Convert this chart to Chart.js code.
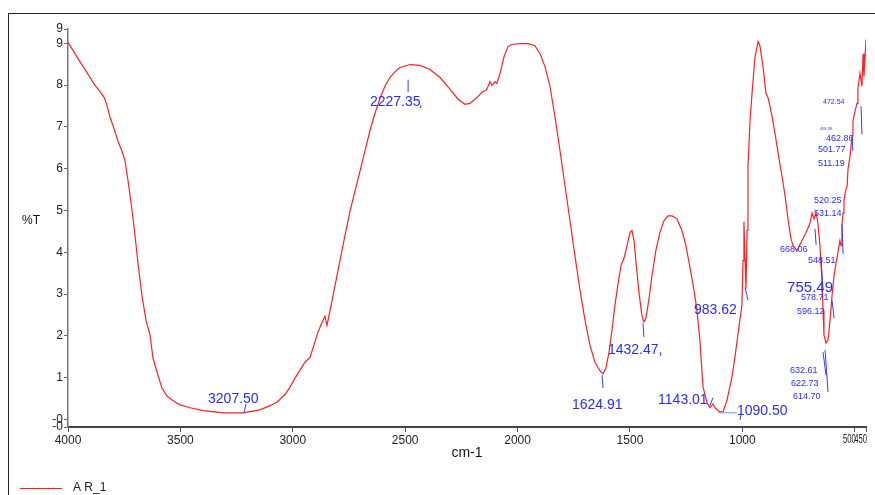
<!DOCTYPE html>
<html>
<head>
<meta charset="utf-8">
<script src="https://cdn.jsdelivr.net/npm/chart.js@4.4.0/dist/chart.umd.min.js"></script>
<style>
  html, body { margin: 0; padding: 0; background: #fff; }
</style>
</head>
<body>
<canvas id="spectrum" width="875" height="495"></canvas>
<script>
// IR spectrum
const wavenumbers = [
  4000, 3969, 3947, 3924, 3902, 3880, 3858, 3840, 3827, 3813, 3795, 3778, 3760, 3746, 3733, 3715,
  3702, 3689, 3671, 3653, 3635, 3622, 3604, 3582, 3560, 3533, 3502, 3457, 3399, 3310, 3221, 3146,
  3101, 3070, 3035, 3012, 2990, 2968, 2946, 2923, 2910, 2888, 2870, 2857, 2848, 2834, 2812, 2790,
  2768, 2745, 2723, 2701, 2679, 2657, 2634, 2612, 2590, 2568, 2545, 2523, 2479, 2434, 2390, 2345,
  2301, 2265, 2234, 2212, 2181, 2154, 2140, 2132, 2123, 2114, 2100, 2092, 2078, 2060, 2043, 2025,
  1989, 1954, 1923, 1900, 1878, 1856, 1834, 1811, 1789, 1767, 1745, 1722, 1700, 1678, 1656, 1633,
  1620, 1607, 1593, 1580, 1567, 1553, 1540, 1527, 1513, 1500, 1491, 1482, 1473, 1460, 1447, 1438,
  1429, 1415, 1402, 1385, 1367, 1349, 1331, 1313, 1291, 1269, 1251, 1233, 1215, 1202, 1189, 1175,
  1157, 1144, 1131, 1122, 1100, 1086, 1068, 1046, 1033, 1019, 1002, 997, 993, 988, 984, 979,
  975, 966, 957, 944, 930, 922, 908, 895, 886, 877, 868, 855, 841, 824, 810, 797,
  784, 775, 757, 744, 730, 717, 708, 699, 690, 681, 672, 664, 655, 646, 641, 637,
  628, 619, 610, 601, 592, 583, 575, 566, 561, 557, 552, 548, 539, 534, 530, 521,
  512, 508, 499, 490, 486, 477, 468, 463, 459, 450
];
const transmittance = [
  9.02, 8.75, 8.56, 8.37, 8.18, 7.99, 7.85, 7.71, 7.52, 7.23, 6.95, 6.66, 6.42, 6.18, 5.71, 5.00,
  4.40, 3.75, 2.97, 2.37, 2.02, 1.47, 1.13, 0.75, 0.56, 0.45, 0.35, 0.28, 0.21, 0.16, 0.16, 0.23,
  0.33, 0.42, 0.59, 0.78, 0.99, 1.18, 1.37, 1.49, 1.71, 2.09, 2.32, 2.47, 2.25, 2.61, 3.21, 3.80,
  4.40, 4.99, 5.47, 5.94, 6.42, 6.90, 7.33, 7.68, 7.97, 8.18, 8.32, 8.42, 8.49, 8.47, 8.37, 8.18,
  7.90, 7.66, 7.54, 7.56, 7.70, 7.85, 7.87, 7.96, 8.08, 7.99, 8.08, 8.04, 8.28, 8.68, 8.92, 8.97,
  8.99, 8.99, 8.94, 8.75, 8.44, 7.97, 7.25, 6.42, 5.59, 4.76, 3.92, 3.09, 2.37, 1.78, 1.37, 1.16,
  1.09, 1.23, 1.61, 2.14, 2.73, 3.25, 3.68, 3.85, 4.16, 4.47, 4.52, 4.28, 3.75, 3.04, 2.49, 2.33,
  2.42, 2.90, 3.44, 4.04, 4.47, 4.75, 4.87, 4.87, 4.80, 4.52, 4.16, 3.63, 3.09, 2.61, 1.90, 0.78,
  0.40, 0.28, 0.37, 0.28, 0.18, 0.18, 0.47, 1.02, 1.49, 2.06, 2.73, 3.80, 4.73, 3.80, 3.13, 4.52,
  6.06, 7.14, 7.80, 8.67, 9.04, 8.94, 8.44, 7.80, 7.70, 7.49, 7.25, 6.85, 6.37, 5.83, 5.35, 4.80,
  4.33, 4.16, 4.04, 4.18, 4.33, 4.47, 4.58, 4.70, 4.94, 4.80, 4.94, 4.70, 4.16, 3.33, 2.61, 2.02,
  1.83, 1.90, 2.37, 2.97, 3.44, 3.75, 3.99, 4.28, 4.16, 4.64, 4.94, 5.23, 5.51, 5.58, 5.99, 6.30,
  6.78, 7.14, 7.37, 7.56, 7.90, 8.28, 7.97, 8.75, 8.21, 9.09
];

const xTickValues = [4000, 3500, 3000, 2500, 2000, 1500, 1000, 500, 450];
// the two right-most ticks sit too close; their labels are squeezed and end at the tick
const xEndTicks = [500, 450];
const yTickValues = [-0.18, 0, 1, 2, 3, 4, 5, 6, 7, 8, 9, 9.34];
const yTickLabels = ['-0', '-0', '1', '2', '3', '4', '5', '6', '7', '8', '9', '9'];
const seriesName = 'A R_1';

// peak labels, anchored at (cm-1, %T) of their left/middle edge
const peakNotes = [
  { text: '3207.50', x: 3377, y: 0.49, size: 14 },
  { text: '2227.35', x: 2657, y: 7.59, size: 14 },
  { text: '1624.91', x: 1758, y: 0.35, size: 14 },
  { text: '1432.47,', x: 1598, y: 1.66, size: 14 },
  { text: '1143.01', x: 1375, y: 0.47, size: 14 },
  { text: '1090.50', x: 1024, y: 0.21, size: 14 },
  { text: '983.62', x: 1215, y: 2.61, size: 14 },
  { text: '755.49', x: 801, y: 3.16, size: 15 },
  { text: '668.06', x: 833, y: 4.06, size: 9 },
  { text: '548.51', x: 708, y: 3.80, size: 9 },
  { text: '578.71', x: 739, y: 2.92, size: 9 },
  { text: '596.12', x: 757, y: 2.59, size: 9 },
  { text: '632.61', x: 788, y: 1.18, size: 9 },
  { text: '622.73', x: 784, y: 0.87, size: 9 },
  { text: '614.70', x: 775, y: 0.56, size: 9 },
  { text: '520.25', x: 681, y: 5.23, size: 9 },
  { text: '531.14', x: 681, y: 4.92, size: 9 },
  { text: '501.77', x: 664, y: 6.45, size: 9 },
  { text: '511.19', x: 664, y: 6.13, size: 9 },
  { text: '462.86', x: 628, y: 6.71, size: 9 },
  { text: '472.54', x: 641, y: 7.59, size: 7 },
  { text: '493.39', x: 655, y: 6.95, size: 4 }
];

// small marker strokes under the peak labels
const peakMarks = [
  { x1: 3208, y1: 0.37, x2: 3217, y2: 0.16 },
  { x1: 2487, y1: 8.13, x2: 2487, y2: 7.83 },
  { x1: 2429, y1: 7.52, x2: 2434, y2: 7.45 },
  { x1: 1624, y1: 1.06, x2: 1620, y2: 0.75 },
  { x1: 1442, y1: 2.30, x2: 1438, y2: 1.97 },
  { x1: 1144, y1: 0.33, x2: 1131, y2: 0.52 },
  { x1: 1108, y1: 0.16, x2: 1024, y2: 0.16, color: '#6f9fe0' },
  { x1: 1006, y1: 0.14, x2: 1010, y2: -0.01 },
  { x1: 988, y1: 3.16, x2: 975, y2: 2.85 },
  { x1: 677, y1: 4.56, x2: 672, y2: 4.18 },
  { x1: 650, y1: 3.87, x2: 641, y2: 3.09 },
  { x1: 601, y1: 2.85, x2: 592, y2: 2.42 },
  { x1: 632, y1: 1.66, x2: 619, y2: 0.66 },
  { x1: 641, y1: 1.61, x2: 628, y2: 1.06 },
  { x1: 557, y1: 4.68, x2: 552, y2: 3.96 },
  { x1: 512, y1: 6.75, x2: 508, y2: 6.42 },
  { x1: 472, y1: 7.49, x2: 468, y2: 6.82 }
];

const FONT = '"Liberation Sans", Arial, sans-serif';

const peakLabelPlugin = {
  id: 'peakLabels',
  afterDatasetsDraw(chart) {
    const { ctx, scales: { x, y } } = chart;
    ctx.save();
    ctx.lineWidth = 1;
    peakMarks.forEach(m => {
      ctx.strokeStyle = m.color || '#3a3aff';
      ctx.beginPath();
      ctx.moveTo(x.getPixelForValue(m.x1), y.getPixelForValue(m.y1));
      ctx.lineTo(x.getPixelForValue(m.x2), y.getPixelForValue(m.y2));
      ctx.stroke();
    });
    ctx.textAlign = 'left';
    ctx.textBaseline = 'middle';
    ctx.fillStyle = '#2a2aff';
    peakNotes.forEach(n => {
      ctx.font = n.size + 'px ' + FONT;
      ctx.fillText(n.text, x.getPixelForValue(n.x), y.getPixelForValue(n.y));
    });
    ctx.restore();
  }
};

// outer frame, horizontal %T title, the crowded end labels and the legend
const framePlugin = {
  id: 'frame',
  afterDraw(chart) {
    const { ctx, scales: { x } } = chart;
    const ds = chart.data.datasets[0];
    ctx.save();
    ctx.strokeStyle = '#222';
    ctx.lineWidth = 1;
    ctx.beginPath();
    ctx.moveTo(8.5, 495);
    ctx.lineTo(8.5, 13.5);
    ctx.lineTo(875, 13.5);
    ctx.stroke();

    ctx.fillStyle = '#111';
    ctx.font = '12px ' + FONT;
    ctx.textBaseline = 'middle';
    ctx.fillText('%T', 22, 221);

    // squeezed "500450"
    ctx.fillStyle = '#222';
    ctx.textAlign = 'right';
    ctx.textBaseline = 'top';
    const squeeze = 0.64;
    xEndTicks.forEach(v => {
      ctx.save();
      ctx.translate(x.getPixelForValue(v) + 1, x.top + 7);
      ctx.scale(squeeze, 1);
      ctx.fillText(String(v), 0, 0);
      ctx.restore();
    });
    ctx.textAlign = 'left';
    ctx.textBaseline = 'middle';

    ctx.strokeStyle = ds.borderColor;
    ctx.beginPath();
    ctx.moveTo(20, 488.5);
    ctx.lineTo(62, 488.5);
    ctx.stroke();
    ctx.globalAlpha = 0.5;
    for (let px = 23; px < 62; px += 5) {
      ctx.beginPath();
      ctx.moveTo(px + 0.5, 487.5);
      ctx.lineTo(px + 0.5, 489.5);
      ctx.stroke();
    }
    ctx.globalAlpha = 1;
    ctx.fillStyle = '#222';
    ctx.fillText(ds.label, 73, 488);
    ctx.restore();
  }
};

const ctx = document.getElementById('spectrum').getContext('2d');
const chart = new Chart(ctx, {
  type: 'line',
  data: {
    datasets: [{
      label: seriesName,
      data: wavenumbers.map((w, i) => ({ x: w, y: transmittance[i] })),
      borderColor: '#ff2020',
      backgroundColor: '#ff2020',
      borderWidth: 1.2,
      pointRadius: 0,
      tension: 0,
      fill: false
    }]
  },
  options: {
    responsive: false,
    animation: false,
    layout: { padding: { top: 29, right: 9, bottom: 0, left: 0 } },
    plugins: {
      legend: { display: false },
      tooltip: { enabled: false }
    },
    scales: {
      x: {
        type: 'linear',
        reverse: true,
        min: 450,
        max: 4000,
        afterBuildTicks: s => { s.ticks = xTickValues.map(v => ({ value: v })); },
        afterFit: s => { s.height = 68; s.paddingLeft = 0; s.paddingRight = 0; },
        ticks: {
          autoSkip: false,
          maxRotation: 0,
          padding: 1,
          color: '#222',
          font: { family: FONT, size: 12 },
          callback: v => (xEndTicks.includes(v) ? '' : String(v))
        },
        grid: { drawOnChartArea: false, drawTicks: true, tickLength: 5, color: '#555' },
        border: { display: true, color: '#444', width: 2 },
        title: {
          display: true,
          text: 'cm-1',
          color: '#111',
          font: { family: FONT, size: 14 },
          padding: { top: 4, bottom: 33 }
        }
      },
      y: {
        min: -0.18,
        max: 9.34,
        afterBuildTicks: s => { s.ticks = yTickValues.map(v => ({ value: v })); },
        afterFit: s => { s.width = 68; s.paddingTop = 0; s.paddingBottom = 0; },
        ticks: {
          autoSkip: false,
          padding: 1,
          color: '#222',
          font: { family: FONT, size: 12 },
          callback: (v, i) => yTickLabels[i]
        },
        grid: { drawOnChartArea: false, drawTicks: true, tickLength: 4, color: '#666' },
        border: { display: true, color: '#777', width: 1.5 }
      }
    }
  },
  plugins: [peakLabelPlugin, framePlugin]
});
</script>
</body>
</html>
